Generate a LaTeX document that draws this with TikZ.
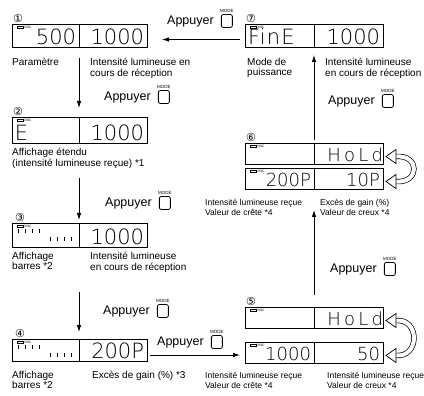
\documentclass[tikz,border=0pt]{standalone}
\usepackage{fontspec}
\setmainfont{Liberation Sans}
\newfontfamily\lcdfont{DejaVu Sans ExtraLight}
\newfontfamily\numfont{DejaVu Sans}
\usetikzlibrary{arrows.meta,positioning,calc}

% DISC lamp in the corner of a readout
\newcommand\disc[1]{%
  \draw[line width=.5pt] ([xshift=5pt,yshift=-2pt]#1.north west) rectangle ++(6pt,-2.3pt);
  \node[disctxt,anchor=west] (#1x) at ([xshift=11.5pt,yshift=-3.1pt]#1.north west) {DISC};}
% bar graph ticks
\newcommand\bars[1]{%
  \foreach \i in {0,...,3}{
    \draw[line width=.9pt] ([xshift={(6+7*\i)*1pt},yshift=-6pt]#1.north west) -- ++(0pt,-4pt);
    \draw[line width=.9pt] ([xshift={(38+7*\i)*1pt},yshift=-14pt]#1.north west) -- ++(0pt,-4pt);}}
% "Appuyer" + MODE key
\newcommand\press[3]{%
  \node[presstxt,anchor=west] (#1) at (#2,#3) {Appuyer};
  \node[modekey,right=7pt of #1] (#1k) {};
  \node[modetxt,above=1.5pt of #1k] (#1m) {MODE};}
% hollow swap arrows beside a two line readout
\newcommand\swap[2]{%
  \draw[line width=.7pt,double=white,double distance=4pt]
    ([xshift=13pt,yshift=-3pt]#1.east) .. controls +(24pt,2pt) and +(24pt,-2pt) .. ([xshift=13pt,yshift=-3pt]#2.east);
  \draw[line width=.7pt,fill=white] ([xshift=3pt,yshift=-3pt]#1.east) -- ++(10pt,7pt) -- ++(0pt,-14pt) -- cycle;
  \draw[line width=.7pt,fill=white] ([xshift=3pt,yshift=-3pt]#2.east) -- ++(10pt,7pt) -- ++(0pt,-14pt) -- cycle;}

\begin{document}
\begin{tikzpicture}[x=1pt,y=-1pt,>={Latex[length=7pt,width=4.5pt]},
    lcd/.style={draw,line width=.9pt,inner xsep=3pt,inner ysep=0pt,outer sep=0pt,
      minimum height=23pt,text height=18.5pt,text depth=0pt,text width=61pt,align=right,
      anchor=north west,font=\lcdfont\fontsize{21}{21}\selectfont},
    lcdw/.style={lcd,text width=62pt},
    lcds/.style={lcd,minimum height=21pt,text height=16.5pt,text width=63pt,
      font=\lcdfont\fontsize{18}{18}\selectfont},
    num/.style={font=\numfont\fontsize{11}{11}\selectfont,inner sep=0pt,anchor=south west},
    lbl/.style={font=\fontsize{10}{10.5}\selectfont,align=left,inner sep=0pt,anchor=north west},
    lbls/.style={lbl,font=\fontsize{8.5}{10}\selectfont},
    presstxt/.style={font=\fontsize{12.5}{12.5}\selectfont,inner sep=0pt},
    modekey/.style={draw,line width=.8pt,rounded corners=2pt,minimum width=11pt,minimum height=13pt,inner sep=0pt},
    modetxt/.style={font=\fontsize{4.5}{4.5}\selectfont,inner sep=0pt},
    disctxt/.style={font=\fontsize{3.3}{3.3}\selectfont,inner sep=0pt},
    link/.style={->,line width=.8pt}]
  \useasboundingbox (0,0) rectangle (424,396);

  % readouts, left column
  \node[lcd] (d1a) at (12,24) {500};
  \node[lcdw] (d1b) at (d1a.north east) {1000};
  \node[lcd,minimum height=26pt,text height=21.5pt,align=left] (d2a) at (12,117) {E};
  \node[lcdw,minimum height=26pt,text height=21.5pt] (d2b) at (d2a.north east) {1000};
  \node[lcd,minimum height=24pt,text height=19.5pt] (d3a) at (12,223) {};
  \node[lcdw,minimum height=24pt,text height=19.5pt] (d3b) at (d3a.north east) {1000};
  \node[lcd,minimum height=22pt,text height=17.5pt] (d4a) at (12,339) {};
  \node[lcdw,minimum height=22pt,text height=17.5pt] (d4b) at (d4a.north east) {200P};
  % readouts, right column
  \node[lcd,text width=63pt,align=left] (d7a) at (245,24) {\addfontfeature{LetterSpace=6}FinE};
  \node[lcd,text width=63pt] (d7b) at (d7a.north east) {1000};
  \node[lcds] (d6a) at (245,143) {};
  \node[lcds] (d6b) at (d6a.north east) {\addfontfeature{LetterSpace=18}HoLd\kern-3pt};
  \node[lcds] (d6c) at (245,168) {200P};
  \node[lcds] (d6d) at (d6c.north east) {10P};
  \node[lcds] (d5a) at (245,307) {};
  \node[lcds] (d5b) at (d5a.north east) {\addfontfeature{LetterSpace=18}HoLd\kern-3pt};
  \node[lcds] (d5c) at (245,342) {1000};
  \node[lcds] (d5d) at (d5c.north east) {50};

  \foreach \d in {d1a,d2a,d3a,d4a,d7a,d6a,d6c,d5a,d5c}{\disc{\d}}
  \bars{d3a}
  \bars{d4a}
  \swap{d6b}{d6d}
  \swap{d5b}{d5d}

  % step numbers
  \node[num] (n1) at ([xshift=1pt,yshift=1pt]d1a.north west) {①};
  \node[num] (n2) at ([xshift=1pt,yshift=1pt]d2a.north west) {②};
  \node[num] (n3) at ([xshift=3pt,yshift=1pt]d3a.north west) {③};
  \node[num] (n4) at ([xshift=3pt,yshift=1pt]d4a.north west) {④};
  \node[num] (n5) at ([xshift=1pt,yshift=1pt]d5a.north west) {⑤};
  \node[num] (n6) at ([xshift=1pt,yshift=1pt]d6a.north west) {⑥};
  \node[num] (n7) at ([xshift=1pt,yshift=1pt]d7a.north west) {⑦};

  % captions
  \node[lbl] (t1a) at (12,58) {Paramètre};
  \node[lbl] (t1b) at (90,58) {Intensité lumineuse en\\cours de réception};
  \node[lbl] (t7a) at (247,58) {Mode de\\puissance};
  \node[lbl] (t7b) at (325,58) {Intensité lumineuse\\en cours de réception};
  \node[lbl] (t2a) at (12,148) {Affichage étendu\\(intensité lumineuse reçue) *1};
  \node[lbl] (t3a) at (12,252) {Affichage\\barres *2};
  \node[lbl] (t3b) at (90,252) {Intensité lumineuse\\ en cours de réception};
  \node[lbl] (t4a) at (12,371) {Affichage\\barres *2};
  \node[lbl] (t4b) at (92,371) {Excès de gain (\%) *3};
  \node[lbls] (t6a) at (205,199) {Intensité lumineuse reçue\\Valeur de crête *4};
  \node[lbls] (t6b) at (320,199) {Excès de gain (\%)\\Valeur de creux *4};
  \node[lbls] (t5a) at (205,372) {Intensité lumineuse reçue\\Valeur de crête *4};
  \node[lbls] (t5b) at (327,372) {Intensité lumineuse reçue\\Valeur de creux *4};

  % key presses
  \press{p71}{167}{21}
  \press{p12}{104}{97}
  \press{p23}{105}{203}
  \press{p34}{103}{311}
  \press{p45}{157}{342}
  \press{p56}{330}{269}
  \press{p67}{328}{101}

  % flow
  \draw[link,shorten <=11pt,shorten >=9pt] (d1a.south east) -- (d2a.north east);
  \draw[link,shorten <=35pt,shorten >=3pt] (d2a.south east) -- (d3a.north east);
  \draw[link,shorten <=45pt,shorten >=7pt] (d3a.south east) -- (d4a.north east);
  \draw[link,shorten <=3pt,shorten >=5pt] ([yshift=-5pt]d4b.east) -- ([yshift=-5pt]d4b.east -| d5c.west);
  \draw[link,shorten <=12pt,shorten >=21pt] (d5a.north east) -- (d6c.south east);
  \draw[link,shorten <=3pt,shorten >=8pt] (d6a.north east) -- (d7a.south east);
  \draw[link,shorten <=5pt,shorten >=15pt] ([yshift=-4pt]d7a.west) -- ([yshift=-4pt]d1b.east);
\end{tikzpicture}
\end{document}
